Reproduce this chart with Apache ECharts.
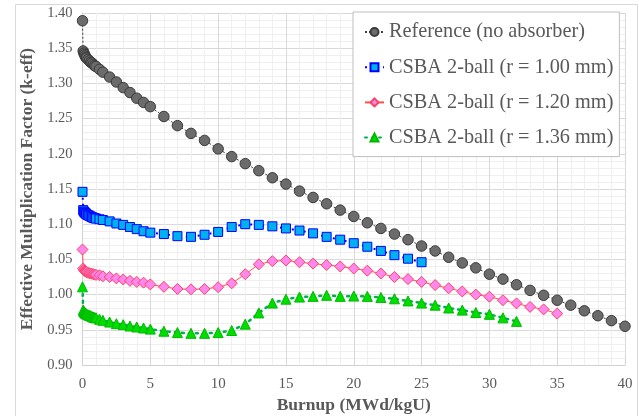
<!DOCTYPE html>
<html>
<head>
<meta charset="utf-8">
<script src="https://cdn.jsdelivr.net/npm/echarts@6/dist/echarts.min.js"></script>
<style>
html,body{margin:0;padding:0;background:#fff;}
#chart{width:639px;height:416px;}
</style>
</head>
<body>
<div id="chart"></div>
<script>
// Burnup steps (MWd/kgU)
const burnup = [0,0.05,0.1,0.15,0.2,0.25,0.3,0.4,0.5,0.6,0.7,0.8,0.9,1.0,1.25,1.5,2,2.5,3,3.5,4,4.5,5,
  6,7,8,9,10,11,12,13,14,15,16,17,18,19,20,21,22,23,24,25,26,27,28,29,30,31,32,33,34,35,36,37,38,39,40];

const seriesNames = [
  'Reference (no absorber)',
  'CSBA 2-ball (r = 1.00 mm)',
  'CSBA 2-ball (r = 1.20 mm)',
  'CSBA 2-ball (r = 1.36 mm)'
];

const kRef = [1.389,1.346,1.343,1.341,1.339,1.337,1.336,1.334,1.332,1.330,1.329,1.327,1.325,1.324,1.320,1.316,1.309,1.302,1.294,1.287,1.279,1.273,1.267,
  1.253,1.240,1.229,1.219,1.207,1.196,1.186,1.176,1.166,1.157,1.147,1.138,1.129,1.120,1.111,1.102,1.094,1.086,1.078,1.069,1.062,1.053,1.045,1.038,1.029,1.022,1.014,1.006,0.999,0.992,0.985,0.977,0.970,0.963,0.955];

const k100 = [1.146,1.120,1.118,1.117,1.116,1.115,1.114,1.113,1.112,1.111,1.110,1.109,1.1085,1.108,1.107,1.106,1.104,1.101,1.099,1.096,1.093,1.090,1.088,
  1.086,1.083,1.082,1.085,1.089,1.096,1.100,1.099,1.097,1.094,1.091,1.087,1.082,1.078,1.073,1.068,1.062,1.056,1.051,1.046];

const k120 = [1.064,1.037,1.035,1.034,1.033,1.0325,1.032,1.031,1.0305,1.030,1.0295,1.029,1.0285,1.028,1.0275,1.026,1.025,1.023,1.0215,1.0195,1.018,1.017,1.0145,
  1.011,1.008,1.0075,1.008,1.0105,1.016,1.029,1.043,1.0475,1.0485,1.046,1.044,1.042,1.040,1.037,1.034,1.030,1.025,1.022,1.018,1.0135,1.009,1.0045,1.000,0.997,0.992,0.9875,0.9825,0.979,0.973];

const k136 = [1.011,0.978,0.976,0.975,0.974,0.973,0.9725,0.9715,0.9705,0.970,0.969,0.968,0.9675,0.967,0.965,0.9635,0.961,0.9587,0.9573,0.9554,0.954,0.9526,0.951,
  0.948,0.946,0.945,0.945,0.946,0.949,0.958,0.974,0.988,0.9935,0.9965,0.9975,0.999,0.9975,0.998,0.9975,0.996,0.994,0.991,0.988,0.985,0.981,0.978,0.9745,0.972,0.967,0.962];

function pairs(vals){ return vals.map((v,i)=>[burnup[i], v]); }

const FONT = '"Liberation Serif", "Times New Roman", serif';
const TXT = '#595959';

const chart = echarts.init(document.getElementById('chart'), null, {renderer:'canvas'});
chart.setOption({
  animation: false,
  backgroundColor: '#ffffff',
  graphic: [{
    type: 'rect', left: 13, top: 2, silent: true,
    shape: {width: 622, height: 412},
    style: {fill: 'none', stroke: '#d9d9d9', lineWidth: 1}
  }],
  grid: {left: 82.5, right: 14, top: 13, bottom: 51, containLabel: false, outerBoundsMode: 'none'},
  legend: {
    orient: 'vertical',
    left: 353, top: 12,
    padding: [10, 6, 9, 11],
    itemGap: 15.2,
    itemWidth: 19, itemHeight: 10,
    backgroundColor: '#ffffff',
    borderColor: '#bfbfbf', borderWidth: 1,
    textStyle: {fontFamily: FONT, fontSize: 20.3, color: TXT},
    data: seriesNames
  },
  xAxis: {
    type: 'value', min: 0, max: 40, interval: 5,
    name: 'Burnup (MWd/kgU)', nameLocation: 'middle', nameGap: 30,
    nameTextStyle: {fontFamily: FONT, fontSize: 17.5, fontWeight: 'bold', color: TXT},
    axisLine: {show: true, lineStyle: {color: '#d0d0d0'}},
    axisTick: {show: false},
    minorTick: {show: false, splitNumber: 5},
    axisLabel: {fontFamily: FONT, fontSize: 15, color: TXT, margin: 12},
    splitLine: {show: true, lineStyle: {color: '#d9d9d9', width: 1}},
    minorSplitLine: {show: true, lineStyle: {color: '#efefef', width: 1}}
  },
  yAxis: {
    type: 'value', min: 0.90, max: 1.40, interval: 0.05,
    name: 'Effective Multiplication Factor (k-eff)', nameLocation: 'middle', nameGap: 43,
    nameTextStyle: {fontFamily: FONT, fontSize: 17.5, fontWeight: 'bold', color: TXT},
    axisLine: {show: true, lineStyle: {color: '#d0d0d0'}},
    axisTick: {show: false},
    minorTick: {show: false, splitNumber: 5},
    axisLabel: {fontFamily: FONT, fontSize: 14.5, color: TXT, margin: 10, formatter: v => v.toFixed(2)},
    splitLine: {show: true, lineStyle: {color: '#d9d9d9', width: 1}},
    minorSplitLine: {show: true, lineStyle: {color: '#efefef', width: 1}}
  },
  series: [
    {
      name: seriesNames[0], type: 'line', data: pairs(kRef),
      symbol: 'circle', symbolSize: 10.5,
      itemStyle: {color: '#6b6b6b', borderColor: '#3a3a3a', borderWidth: 1},
      lineStyle: {color: '#404040', width: 1, type: [2, 2]}
    },
    {
      name: seriesNames[1], type: 'line', data: pairs(k100),
      symbol: 'rect', symbolSize: 9,
      itemStyle: {color: '#00b0f0', borderColor: '#0000ff', borderWidth: 1},
      lineStyle: {color: '#0000ff', width: 2, type: [2, 4]}
    },
    {
      name: seriesNames[2], type: 'line', data: pairs(k120),
      symbol: 'diamond', symbolSize: 11,
      itemStyle: {color: '#ff88ee', borderColor: '#ff4060', borderWidth: 1},
      lineStyle: {color: '#ff5050', width: 1}
    },
    {
      name: seriesNames[3], type: 'line', data: pairs(k136),
      symbol: 'triangle', symbolSize: 10,
      itemStyle: {color: '#00dd00', borderColor: '#00b800', borderWidth: 1},
      lineStyle: {color: '#00b050', width: 2.5, type: [2, 5], cap: 'round'}
    }
  ]
});
</script>
</body>
</html>
